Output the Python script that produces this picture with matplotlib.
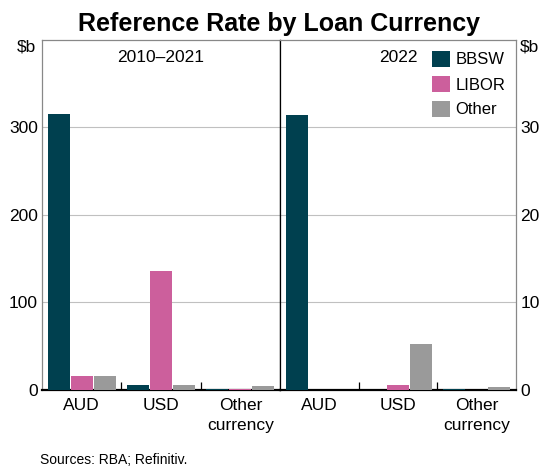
import numpy as np
import matplotlib.pyplot as plt

plt.rcParams.update({
    'font.family': ['Liberation Sans', 'DejaVu Sans'],
    'font.size': 12,
})

categories = ['AUD', 'USD', 'Other\ncurrency']
series = ['BBSW', 'LIBOR', 'Other']
colors = ['#00404f', '#cc5f9c', '#9a9a9a']

# $b, 2010-2021
hist_bbsw = [315, 4.6, 1.0]
hist_libor = [15, 136, 0.7]
hist_other = [15, 4.6, 3.5]

# $b, 2022
y22_bbsw = [31.4, 0.0, 0.1]
y22_libor = [0.0, 0.46, 0.0]
y22_other = [0.0, 5.2, 0.3]

W, H = 540, 467
fig = plt.figure(figsize=(W / 100, H / 100), dpi=100)
bottom, top = 1 - 389.5 / H, 1 - 40 / H
ax1 = fig.add_axes([42 / W, bottom, 238 / W, top - bottom])
ax2 = fig.add_axes([280 / W, bottom, 236 / W, top - bottom])

x = np.arange(len(categories))
w = 0.28
offsets = [-0.29, 0, 0.29]

for ax, data, ymax, ticks, title in [
        (ax1, [hist_bbsw, hist_libor, hist_other], 400, [0, 100, 200, 300], '2010–2021'),
        (ax2, [y22_bbsw, y22_libor, y22_other], 40, [0, 10, 20, 30], '2022')]:
    for vals, off, c, name in zip(data, offsets, colors, series):
        ax.bar(x + off, vals, width=w, color=c, label=name, zorder=3)
    ax.set_xlim(-0.5, 2.5)
    ax.set_ylim(0, ymax)
    ax.set_yticks(ticks)
    ax.grid(axis='y', color='#c0c0c0', linewidth=0.8, zorder=0)
    ax.set_xticks(x)
    ax.set_xticklabels(categories, linespacing=1.45)
    ax.tick_params(axis='x', length=0, pad=6, labelsize=12.5)
    ax.tick_params(axis='y', length=0, pad=3, labelsize=12.5)
    ax.set_xticks([0.5, 1.5], minor=True)
    ax.tick_params(axis='x', which='minor', direction='in', length=6, width=0.9, color='black')
    for s in ['top', 'left', 'right']:
        ax.spines[s].set_color('#888888')
        ax.spines[s].set_linewidth(0.9)
    ax.spines['bottom'].set_color('black')
    ax.spines['bottom'].set_linewidth(1.6)
    ax.text(0.5, 1 - 17 / 349.5, title, transform=ax.transAxes, ha='center', va='center', fontsize=12.5)

ax1.spines['right'].set_color('black')
ax2.spines['left'].set_color('black')
ax2.yaxis.tick_right()

ax1.text(-0.025, 1 - 7 / 349.5, '$b', transform=ax1.transAxes, ha='right', va='center', fontsize=12.5)
ax2.text(1.015, 1 - 7 / 349.5, '$b', transform=ax2.transAxes, ha='left', va='center', fontsize=12.5)

ax2.legend(loc='upper right', bbox_to_anchor=(1.0, 1.0), frameon=False, fontsize=12,
           handlelength=1.1, handleheight=1.1, handletextpad=0.3, labelspacing=0.5,
           borderpad=0.45, borderaxespad=0.2)

fig.text(279 / W, 1 - 24 / H, 'Reference Rate by Loan Currency', fontsize=18,
         fontweight='bold', ha='center', va='center')
fig.text(40 / W, 1 - 460 / H, 'Sources: RBA; Refinitiv.', fontsize=10, va='center')

fig.savefig('out.png', dpi=100)
